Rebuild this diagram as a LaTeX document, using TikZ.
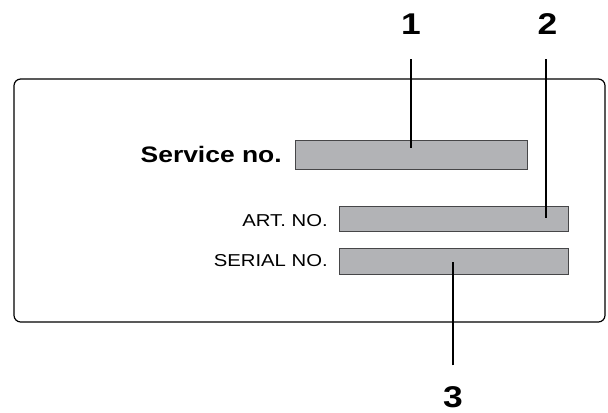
\documentclass[tikz,border=0pt]{standalone}
\usepackage{fontspec}
\setmainfont[FakeStretch=1.18]{Liberation Sans}
\usetikzlibrary{positioning}
\definecolor{FieldGray}{RGB}{178,179,182}
\definecolor{FieldEdge}{RGB}{70,70,72}

\begin{document}
\begin{tikzpicture}[x=0.75pt, y=-0.75pt,
    field/.style={rectangle, draw=FieldEdge, line width=0.6pt, fill=FieldGray, inner sep=0pt},
    fieldlabel/.style={inner sep=0pt, anchor=base east, font=\fontsize{12.9}{14}\selectfont},
    callout/.style={inner sep=0pt, font=\fontsize{22.5}{24}\selectfont\bfseries},
    leader/.style={line width=1.9pt}]
      \useasboundingbox (0,0) rectangle (608,412);

      \draw[line width=0.9pt, rounded corners=5pt] (14,79) rectangle (605,322);

      \node (svcbox) [field, minimum width=174pt, minimum height=21.75pt] at (411,154.5) {};
      \node (artbox) [field, minimum width=171.75pt, minimum height=18.75pt] at (453.5,218.5) {};
      \node (serbox) [field, minimum width=171.75pt, minimum height=19.5pt] at (453.5,261) {};

      \node (svclbl) [fieldlabel, font=\fontsize{16.8}{18}\selectfont\bfseries] at (282,162.3) {Service no.};
      \node (artlbl) [fieldlabel] at (328,226.7) {ART. NO.};
      \node (serlbl) [fieldlabel] at (328,266.7) {SERIAL NO.};

      \node (one) [callout] at (411,24) {1};
      \node (two) [callout] at (547.5,24) {2};
      \node (three) [callout] at (453,397) {3};

      \coordinate (tip1) at (411,148);
      \coordinate (tip2) at (546,218);
      \coordinate (tip3) at (453,262);

      \draw[leader, shorten <=18.5pt] (one.south -| tip1) -- (tip1);
      \draw[leader, shorten <=18.5pt] (two.south -| tip2) -- (tip2);
      \draw[leader, shorten <=15.5pt] (three.north -| tip3) -- (tip3);
    \end{tikzpicture}
\end{document}
